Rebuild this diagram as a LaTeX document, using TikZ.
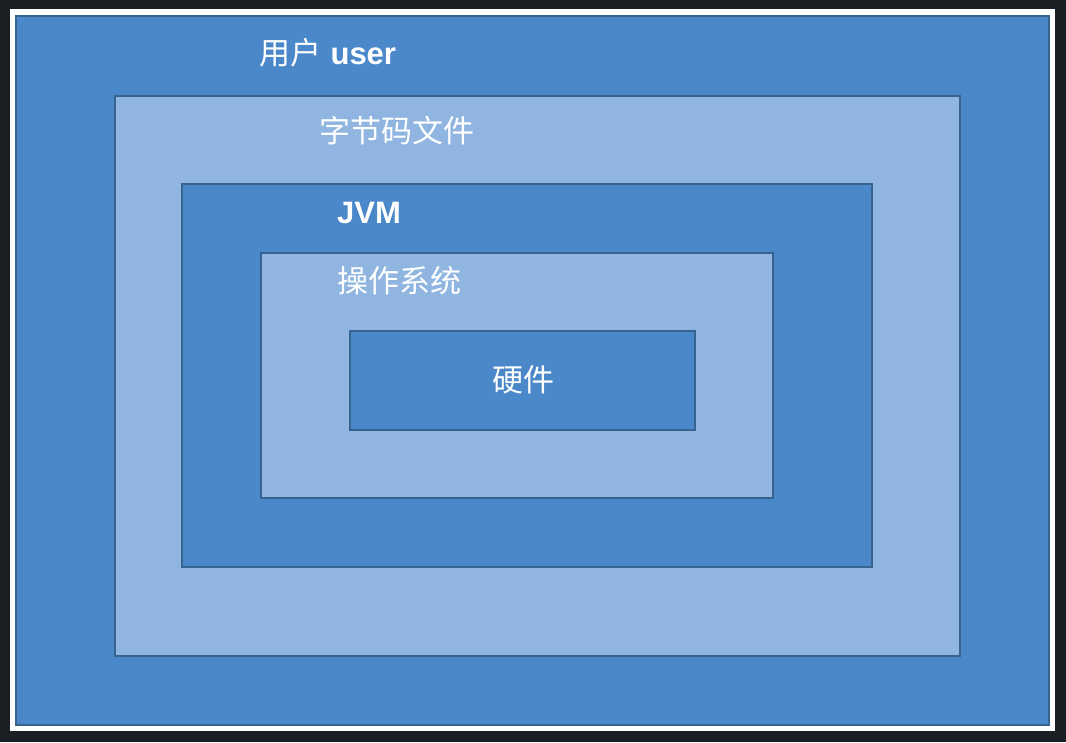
\documentclass[tikz,border=0pt]{standalone}
\usepackage{fontspec}
\setmainfont{Liberation Sans}
\newfontfamily\cjk{Noto Sans CJK SC}
\definecolor{bgdark}{HTML}{1B1F24}
\definecolor{layerblue}{HTML}{4A88C9}
\definecolor{layerlight}{HTML}{8FB5E0}
\definecolor{edgeblue}{HTML}{36638F}
\tikzset{
  layerdark/.style={fill=layerblue,draw=edgeblue,line width=2pt},
  layerpale/.style={fill=layerlight,draw=edgeblue,line width=2pt},
  lbl/.style={text=white,font=\fontsize{31}{33}\selectfont\bfseries,inner sep=0pt,
    text height=0.88em,text depth=0.12em,anchor=center}
}
\begin{document}
\begin{tikzpicture}[x=1pt,y=-1pt]
\useasboundingbox (0,0) rectangle (1066,742);
\fill[bgdark] (0,0) rectangle (1066,742);
\fill[white] (10,9) rectangle (1055,731);
\draw[layerdark] (16,16) rectangle (1049,725);
\draw[layerpale] (115,96) rectangle (960,656);
\draw[layerdark] (182,184) rectangle (872,567);
\draw[layerpale] (261,253) rectangle (773,498);
\draw[layerdark] (350,331) rectangle (695,430);
\node[lbl] (user) at (328,61) {{\cjk\mdseries 用户} user};
\node[lbl] (bytecode) at (397,139) {\cjk\mdseries 字节码文件};
\node[lbl] (jvm) at (369,220) {JVM};
\node[lbl] (os) at (399,289) {\cjk\mdseries 操作系统};
\node[lbl] (hw) at (523,388) {\cjk\mdseries 硬件};
\end{tikzpicture}
\end{document}
